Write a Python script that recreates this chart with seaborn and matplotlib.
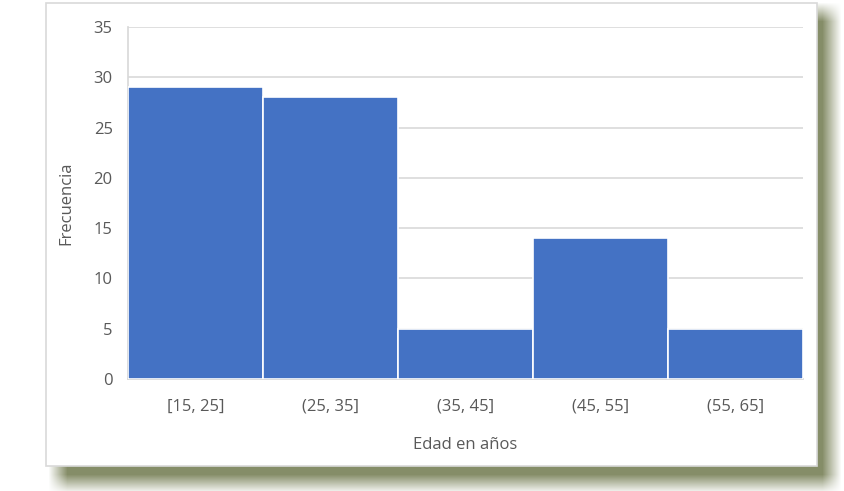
import numpy as np
import pandas as pd
import matplotlib
matplotlib.use("Agg")
import matplotlib.pyplot as plt
import seaborn as sns
from matplotlib.patches import Rectangle

# Datos del histograma
intervalos = ["[15, 25]", "(25, 35]", "(35, 45]", "(45, 55]", "(55, 65]"]
frecuencias = [29, 28, 5, 14, 5]
y_ticks = [0, 5, 10, 15, 20, 25, 30, 35]

df = pd.DataFrame({"Edad": intervalos, "Frecuencia": frecuencias})

sns.set_theme(style="white")
plt.rcParams["font.family"] = ["Open Sans", "DejaVu Sans"]

W, H = 845, 491
fig = plt.figure(figsize=(W / 100, H / 100), dpi=100)
fig.patch.set_facecolor("white")

# Sombra difuminada detras del recuadro
mask = np.zeros((H, W))
mask[12:484, 58:832] = 1.0
k = 9
for axis in (0, 1):
    c = np.cumsum(np.pad(mask, [(k, k) if a == axis else (0, 0) for a in (0, 1)], mode="constant"), axis=axis)
    c = np.insert(c, 0, 0, axis=axis)
    if axis == 0:
        mask = (c[2 * k + 1:, :] - c[:-2 * k - 1, :]) / (2 * k + 1)
    else:
        mask = (c[:, 2 * k + 1:] - c[:, :-2 * k - 1]) / (2 * k + 1)
shadow = np.zeros((H, W, 4))
shadow[..., 0] = 0.50
shadow[..., 1] = 0.53
shadow[..., 2] = 0.38
shadow[..., 3] = mask * 0.95
fig.figimage(shadow, 0, 0, origin="upper", zorder=0)

# Recuadro blanco del grafico
box = Rectangle((46 / W, (H - 466) / H), (817 - 46) / W, (466 - 3) / H,
                transform=fig.transFigure, facecolor="white",
                edgecolor="#d9d9d9", linewidth=1.2, zorder=1)
fig.patches.append(box)

ax = fig.add_axes([128 / W, (H - 379) / H, (803 - 128) / W, (379 - 27) / H])
ax.set_zorder(2)
ax.patch.set_alpha(0)

sns.barplot(data=df, x="Edad", y="Frecuencia", color="#4472C4", saturation=1,
            width=1.0, edgecolor="white", linewidth=1.2, ax=ax, zorder=3)

ax.set_ylim(0, 35)
ax.set_xlim(-0.5, 4.5)
ax.set_yticks(y_ticks)
ax.yaxis.grid(True, color="#d9d9d9", linewidth=1.2)
ax.set_axisbelow(True)
for s in ["top", "right"]:
    ax.spines[s].set_visible(False)
ax.spines["left"].set_color("#d9d9d9")
ax.spines["bottom"].set_color("#d9d9d9")
ax.tick_params(axis="both", length=0, labelsize=12, colors="#595959")
ax.tick_params(axis="y", pad=11)
ax.tick_params(axis="x", pad=14)
ax.set_xlabel("Edad en años", fontsize=12, color="#595959", labelpad=16)
ax.set_ylabel("Frecuencia", fontsize=12, color="#595959", labelpad=14)

fig.savefig("out.png", dpi=100)
